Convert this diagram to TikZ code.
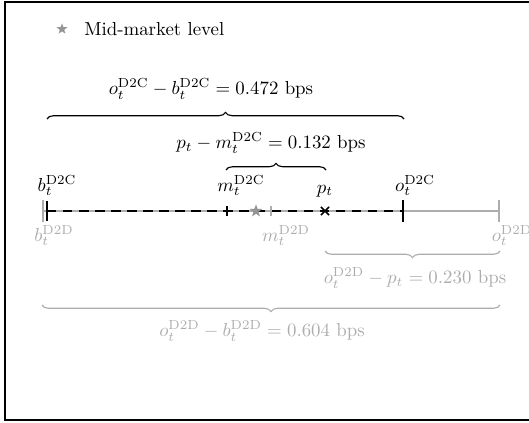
\documentclass[tikz,border=0pt]{standalone}
\usetikzlibrary{shapes.geometric,shapes.misc,decorations.pathreplacing}

\begin{document}
\begin{tikzpicture}[
  x=0.53pt, y=-0.53pt,
  dtc/.style={black},
  dtd/.style={black!32},
  brace/.style={decorate, decoration={brace, amplitude=3.5pt}, semithick},
  bigtick/.style={thick},
  smalltick/.style={thick},
  midstar/.style={star, star points=5, star point ratio=2.4, fill=black!42, draw=none, inner sep=0pt, minimum size=7pt},
  lbl/.style={inner sep=1pt, font=\normalsize}
]
\useasboundingbox (0,0) rectangle (529,423);
\draw[line width=1pt] (529,2) -- (5,2) -- (5,420) -- (529,420);

% legend
\node[midstar, minimum size=6pt] (legstar) at (62,29) {};
\node[lbl, anchor=west] (legtext) at (82,29) {Mid-market level};

% price levels
\coordinate (bDD) at (43,211);
\coordinate (bDC) at (47,211);
\coordinate (mDC) at (227,211);
\coordinate (mid) at (256,211);
\coordinate (mDD) at (271,211);
\coordinate (pT) at (325,211);
\coordinate (oDC) at (403,211);
\coordinate (oDD) at (499,211);

% dealer-to-dealer line
\draw[dtd, semithick] (bDD) -- (oDD);
\draw[dtd, bigtick] (bDD) ++(0,-11) -- ++(0,22);
\draw[dtd, bigtick] (oDD) ++(0,-11) -- ++(0,22);
\draw[dtd, smalltick] (mDD) ++(0,-5) -- ++(0,10);

% dealer-to-client line
\draw[dtc, thick, dash pattern=on 5pt off 3.5pt] (bDC) -- (oDC);
\draw[dtc, bigtick] (bDC) ++(0,-10) -- ++(0,20);
\draw[dtc, bigtick] (oDC) ++(0,-11) -- ++(0,22);
\draw[dtc, smalltick] (mDC) ++(0,-5) -- ++(0,10);
\node[cross out, draw, thick, minimum size=3.5pt, inner sep=0pt] (trade) at (pT) {};
\node[midstar] (midmk) at (mid) {};

% labels
\node[lbl, anchor=south] (lbDC) at (57,198) {$b_t^{\mathrm{D2C}}$};
\node[lbl, anchor=south] (lmDC) at (241,198) {$m_t^{\mathrm{D2C}}$};
\node[lbl, anchor=south] (lpT) at (325,199) {$p_t$};
\node[lbl, anchor=south] (loDC) at (415,198) {$o_t^{\mathrm{D2C}}$};
\node[lbl, dtd, anchor=north] (lbDD) at (54,223) {$b_t^{\mathrm{D2D}}$};
\node[lbl, dtd, anchor=north] (lmDD) at (286,223) {$m_t^{\mathrm{D2D}}$};
\node[lbl, dtd, anchor=north] (loDD) at (512,223) {$o_t^{\mathrm{D2D}}$};

% spreads
\coordinate (s1a) at (47,119);
\coordinate (s1b) at (404,119);
\coordinate (s2a) at (226,170);
\coordinate (s2b) at (326,170);
\coordinate (s3a) at (500,251);
\coordinate (s3b) at (325,251);
\coordinate (s4a) at (500,305);
\coordinate (s4b) at (42,305);
\draw[brace, dtc] (s1a) -- (s1b);
\draw[brace, dtc] (s2a) -- (s2b);
\draw[brace, dtd] (s3a) -- (s3b);
\draw[brace, dtd] (s4a) -- (s4b);
\node[lbl] (sp1) at (211,89) {$o_t^{\mathrm{D2C}}-b_t^{\mathrm{D2C}}=0.472$ bps};
\node[lbl] (sp2) at (271,143) {$p_t-m_t^{\mathrm{D2C}}=0.132$ bps};
\node[lbl, dtd] (sp3) at (415,278) {$o_t^{\mathrm{D2D}}-p_t=0.230$ bps};
\node[lbl, dtd] (sp4) at (262,331) {$o_t^{\mathrm{D2D}}-b_t^{\mathrm{D2D}}=0.604$ bps};
\end{tikzpicture}
\end{document}
